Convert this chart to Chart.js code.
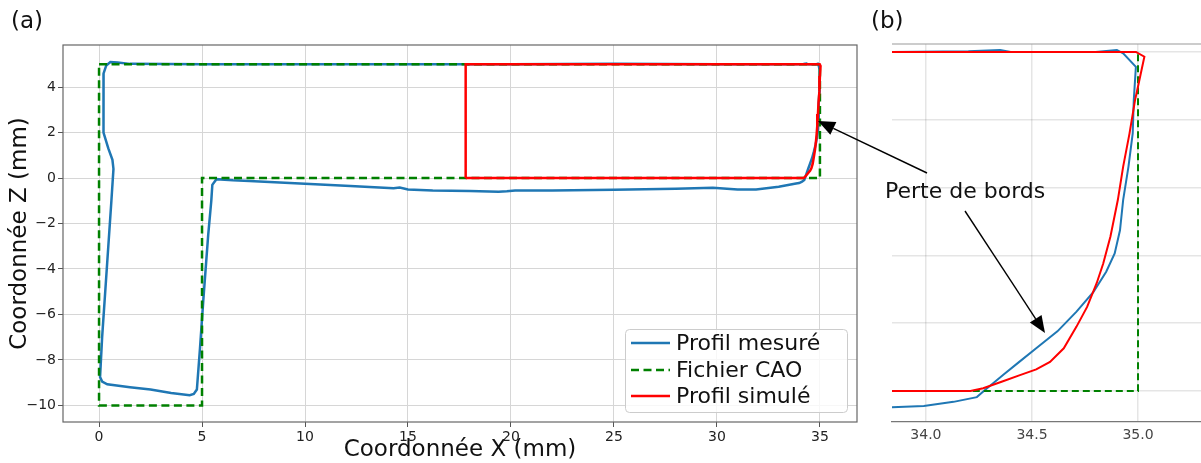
<!DOCTYPE html>
<html>
<head>
<meta charset="utf-8">
<script src="https://cdn.jsdelivr.net/npm/chart.js@4"></script>
<style>
  html, body { margin: 0; padding: 0; background: #fff; }
  #wrap { position: relative; width: 1201px; height: 463px; overflow: hidden; font-family: "DejaVu Sans", sans-serif; }
  #ca { position: absolute; left: 0; top: 0; }
  #cb { position: absolute; left: 870px; top: 0; }
  #over { position: absolute; left: 0; top: 0; }
  #over text { font-family: "DejaVu Sans", sans-serif; fill: #111; }
</style>
</head>
<body>
<div id="wrap">
  <canvas id="ca" width="870" height="463"></canvas>
  <canvas id="cb" width="331" height="463"></canvas>
  <svg id="over" width="1201" height="463"></svg>
</div>
<script>
// Profil mesuré (blue), closed loop starting at top right, going left
const measuredX = [33.8, 30, 25, 20, 15, 10, 5, 1.5, 0.9, 0.55, 0.35, 0.22, 0.2, 0.22, 0.23, 0.45, 0.65, 0.7,
  0.6, 0.45, 0.3, 0.15, 0.05, 0.15, 0.4, 1.5, 2.5, 3.5, 4.4, 4.6, 4.75, 4.9, 5.06, 5.3, 5.45, 5.5, 5.7,
  6.5, 7.3, 10, 12.2, 14.3, 14.6, 15, 16.2, 18, 19.4, 19.8, 20.2, 22, 25, 28, 29.8, 31, 31.9, 33,
  33.84, 33.99, 34.13, 34.24, 34.28, 34.365, 34.44, 34.52, 34.62, 34.71, 34.79, 34.85, 34.89, 34.915,
  34.93, 34.955, 34.975, 34.98, 34.99, 34.93, 34.9, 34.8, 34.4, 34.35, 34.2, 33.8];
const measuredZ = [5.0, 5.0, 5.02, 5.0, 5.0, 5.0, 5.0, 5.02, 5.08, 5.1, 4.95, 4.6, 4.0, 3.0, 2.0, 1.3, 0.8, 0.4,
  -1.0, -3.0, -5.0, -7.0, -8.75, -8.95, -9.07, -9.2, -9.3, -9.45, -9.55, -9.5, -9.3, -7.5, -5.4, -2.5, -1.0, -0.3, -0.05,
  -0.1, -0.13, -0.25, -0.35, -0.45, -0.42, -0.5, -0.55, -0.57, -0.6, -0.58, -0.55, -0.55, -0.52, -0.47, -0.43, -0.5, -0.5, -0.38,
  -0.24, -0.22, -0.16, -0.09, 0.02, 0.24, 0.43, 0.63, 0.88, 1.17, 1.46, 1.76, 2.03, 2.37,
  2.82, 3.31, 3.8, 4.29, 4.78, 4.98, 5.03, 5.0, 5.0, 5.03, 5.01, 5.0];

// Fichier CAO (green dashed)
const cadX = [0, 35, 35, 5, 5, 0, 0];
const cadZ = [5, 5, 0, 0, -10, -10, 5];

// Profil simulé (red)
const simX = [17.8, 17.8, 34.99, 35.03, 35.0, 34.986, 34.96, 34.93, 34.905, 34.87, 34.836, 34.805, 34.76,
  34.71, 34.65, 34.585, 34.52, 34.44, 34.36, 34.27, 34.21, 17.8];
const simZ = [0, 5.0, 5.0, 4.93, 4.49, 4.29, 3.8, 3.31, 2.82, 2.28, 1.88, 1.59, 1.24,
  0.95, 0.63, 0.43, 0.32, 0.23, 0.14, 0.04, 0.0, 0];

const xTicksA = [0, 5, 10, 15, 20, 25, 30, 35];
const yTicksA = [-10, -8, -6, -4, -2, 0, 2, 4];
const xTicksB = [34.0, 34.5, 35.0];
const yTicksB = [0, 1, 2, 3, 4, 5];

const FONT = "DejaVu Sans";
const pts = (xs, zs) => xs.map((x, i) => ({ x: x, y: zs[i] }));
const setTicks = (vals) => (s) => { s.ticks = vals.map(v => ({ value: v })); };

function series(w, dash) {
  return [
    { label: "Profil mesuré", data: pts(measuredX, measuredZ), showLine: true, borderColor: "#1f77b4",
      borderWidth: w, pointRadius: 0, order: 3 },
    { label: "Fichier CAO", data: pts(cadX, cadZ), showLine: true, borderColor: "#008000",
      borderWidth: w, borderDash: dash, pointRadius: 0, order: 2 },
    { label: "Profil simulé", data: pts(simX, simZ), showLine: true, borderColor: "#ff0000",
      borderWidth: w, pointRadius: 0, order: 1 }
  ];
}

// box round the plot, like matplotlib spines
const frameA = {
  id: "frameA",
  afterDraw(chart) {
    const { ctx, chartArea: a } = chart;
    ctx.save();
    ctx.strokeStyle = "#666";
    ctx.lineWidth = 1.2;
    ctx.strokeRect(a.left, a.top, a.right - a.left, a.bottom - a.top);
    ctx.restore();
  }
};
const frameB = {
  id: "frameB",
  afterDraw(chart) {
    const { ctx, chartArea: a } = chart;
    ctx.save();
    ctx.strokeStyle = "#999";
    ctx.lineWidth = 1.2;
    ctx.beginPath();
    ctx.moveTo(a.left, a.top);
    ctx.lineTo(a.right, a.top);
    ctx.stroke();
    ctx.restore();
  }
};

const minus = v => (v < 0 ? "\u2212" + Math.abs(v) : String(v));

new Chart(document.getElementById("ca"), {
  type: "scatter",
  data: { datasets: series(2.5, [8, 4.5]) },
  options: {
    responsive: false,
    animation: false,
    layout: { padding: { left: 0, top: 45, right: 13, bottom: 0 } },
    plugins: { legend: { display: false }, tooltip: { enabled: false } },
    scales: {
      x: {
        type: "linear", min: -1.75, max: 36.8,
        afterBuildTicks: setTicks(xTicksA),
        afterFit: s => { s.height = 41; },
        grid: { color: "#d6d6d6", lineWidth: 1, drawTicks: true, tickLength: 5, tickColor: "#555" },
        border: { display: false },
        ticks: { font: { family: FONT, size: 14 }, color: "#222", padding: 2, maxRotation: 0, autoSkip: false },
        title: { display: true, text: "Coordonnée X (mm)", color: "#111",
          font: { family: FONT, size: 23, lineHeight: 1 }, padding: { top: 0, bottom: 1 } }
      },
      y: {
        type: "linear", min: -10.73, max: 5.85,
        afterBuildTicks: setTicks(yTicksA),
        afterFit: s => { s.width = 63; },
        grid: { color: "#d6d6d6", lineWidth: 1, drawTicks: true, tickLength: 5, tickColor: "#555" },
        border: { display: false },
        ticks: { font: { family: FONT, size: 14 }, color: "#222", padding: 2, autoSkip: false, callback: minus },
        title: { display: true, text: "Coordonnée Z (mm)", color: "#111",
          font: { family: FONT, size: 23, lineHeight: 1 }, padding: { top: 9, bottom: 0 } }
      }
    }
  },
  plugins: [frameA]
});

new Chart(document.getElementById("cb"), {
  type: "scatter",
  data: { datasets: series(2, [7, 4]) },
  options: {
    responsive: false,
    animation: false,
    layout: { padding: { left: 0, top: 44, right: 0, bottom: 0 } },
    plugins: { legend: { display: false }, tooltip: { enabled: false } },
    scales: {
      x: {
        type: "linear", min: 33.84, max: 35.297,
        afterBuildTicks: setTicks(xTicksB),
        afterFit: s => { s.height = 41; },
        grid: { color: "rgba(0,0,0,0.1)", lineWidth: 1.5, drawTicks: false },
        border: { display: true, color: "#777", width: 1.2 },
        ticks: { font: { family: FONT, size: 14 }, color: "#444", padding: 5, maxRotation: 0, autoSkip: false,
          callback: v => v.toFixed(1) }
      },
      y: {
        type: "linear", min: -0.457, max: 5.118,
        afterBuildTicks: setTicks(yTicksB),
        afterFit: s => { s.width = 22; },
        grid: { color: "rgba(0,0,0,0.1)", lineWidth: 1.5, drawTicks: false },
        border: { display: false },
        ticks: { display: false }
      }
    }
  },
  plugins: [frameB]
});

// annotations, legend and panel letters
const NS = "http://www.w3.org/2000/svg";
const svg = document.getElementById("over");
function el(tag, attrs, text) {
  const e = document.createElementNS(NS, tag);
  for (const k in attrs) e.setAttribute(k, attrs[k]);
  if (text) e.textContent = text;
  svg.appendChild(e);
  return e;
}
function arrow(x1, y1, x2, y2) {
  const L = 17, W = 7;
  const dx = x2 - x1, dy = y2 - y1, d = Math.hypot(dx, dy);
  const ux = dx / d, uy = dy / d;
  const bx = x2 - ux * L, by = y2 - uy * L;
  el("line", { x1, y1, x2: bx, y2: by, stroke: "#000", "stroke-width": 1.4 });
  el("polygon", { points: `${x2},${y2} ${bx - uy * W},${by + ux * W} ${bx + uy * W},${by - ux * W}`, fill: "#000" });
}

el("text", { x: 11, y: 28, "font-size": 23 }, "(a)");
el("text", { x: 871, y: 28, "font-size": 23 }, "(b)");
el("text", { x: 885, y: 198, "font-size": 22 }, "Perte de bords");
arrow(927, 173, 818, 121);
arrow(965, 211, 1045, 333);

el("rect", { x: 625.5, y: 329.5, width: 222, height: 83, rx: 4, fill: "#fff", "fill-opacity": 0.8, stroke: "#ccc" });
const legendRows = [
  { text: "Profil mesuré", color: "#1f77b4", dash: null, y: 350 },
  { text: "Fichier CAO", color: "#008000", dash: "8 4.5", y: 377 },
  { text: "Profil simulé", color: "#ff0000", dash: null, y: 403 }
];
legendRows.forEach(r => {
  const a = { x1: 631, y1: r.y - 7, x2: 670, y2: r.y - 7, stroke: r.color, "stroke-width": 2.5 };
  if (r.dash) a["stroke-dasharray"] = r.dash;
  el("line", a);
  el("text", { x: 676, y: r.y, "font-size": 22 }, r.text);
});
</script>
</body>
</html>
